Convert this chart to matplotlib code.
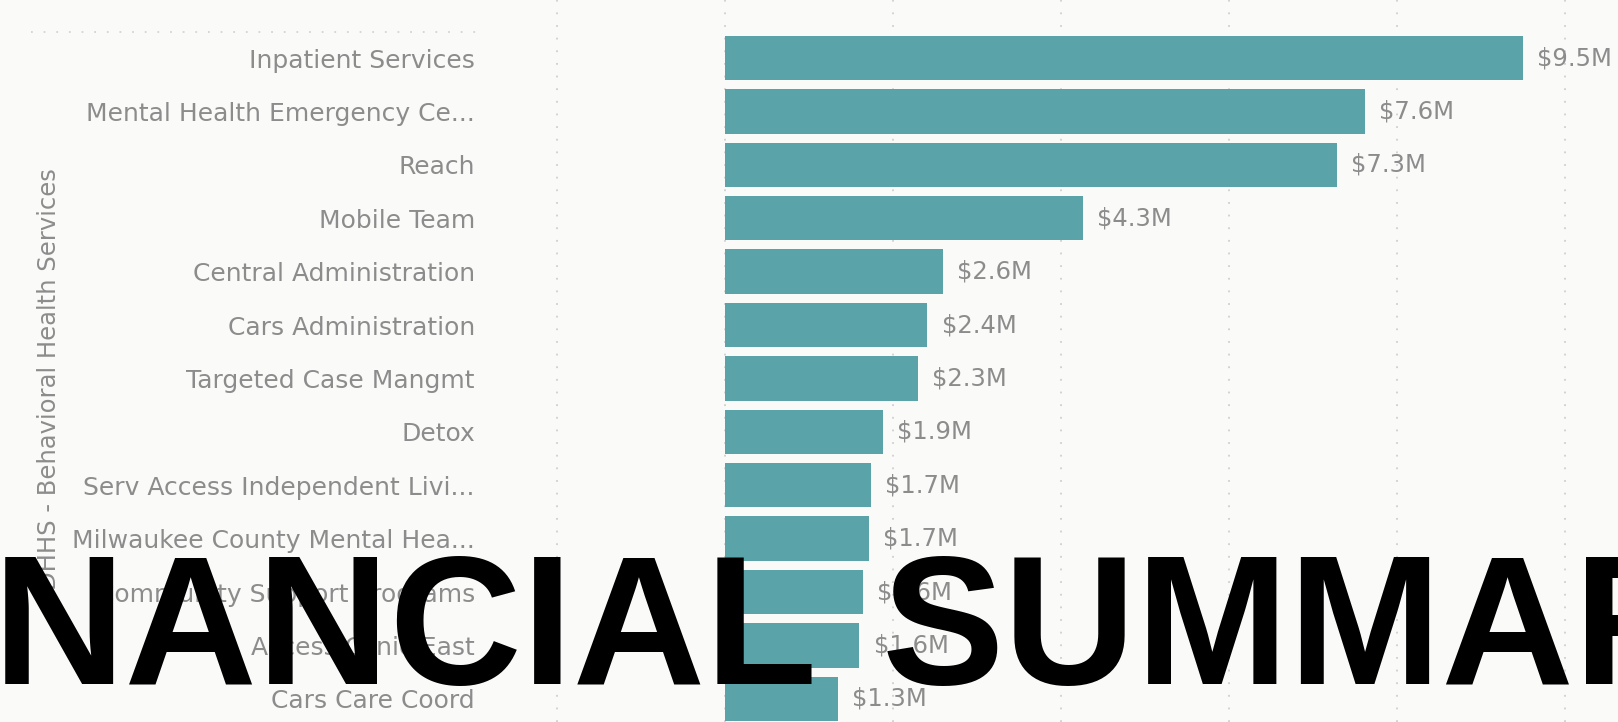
"""Budget by program - horizontal bar chart with a title banner overlay."""

import matplotlib

matplotlib.use("Agg")
import matplotlib.pyplot as plt
from matplotlib.lines import Line2D


programs = [
    "Inpatient Services",
    "Mental Health Emergency Ce...",
    "Reach",
    "Mobile Team",
    "Central Administration",
    "Cars Administration",
    "Targeted Case Mangmt",
    "Detox",
    "Serv Access Independent Livi...",
    "Milwaukee County Mental Hea...",
    "Community Support Programs",
    "Access Clinic East",
    "Cars Care Coord",
]
amounts_m = [9.50, 7.62, 7.28, 4.26, 2.59, 2.41, 2.30, 1.88, 1.74, 1.71, 1.64, 1.60, 1.34]
grid_ticks = [-2, 0, 2, 4, 6, 8, 10]

axis_title = "DHHS - Behavioral Health Services"
banner_words = ["NANCIAL", "SUMMAR"]

BAR_COLOR = "#5aa3a9"
TEXT_GRAY = "#8c8c8c"
BG = "#fafaf9"

W, H, DPI = 1618, 722, 100
fig = plt.figure(figsize=(W / DPI, H / DPI), dpi=DPI, facecolor=BG)

left_px = 486
ax = fig.add_axes([left_px / W, 0.0, 1 - left_px / W, 1.0], facecolor=BG)

positions = range(len(programs))
ax.barh(positions, amounts_m, height=0.83, color=BAR_COLOR, zorder=2)

px_per_m = 84.0
zero_px = 725
ax.set_xlim(-(zero_px - left_px) / px_per_m, (W - zero_px) / px_per_m)
row_px = 53.4
first_row_px = 58
ax.set_ylim((H - first_row_px) / row_px, -first_row_px / row_px)

ax.set_yticks(list(positions))
ax.set_yticklabels(programs, fontsize=18, color=TEXT_GRAY)
ax.tick_params(axis="y", length=0, pad=8)
ax.set_xticks(grid_ticks)
ax.tick_params(axis="x", length=0, labelbottom=False)
ax.grid(axis="x", color="#cfcfcf", linestyle=(0, (1, 6)), linewidth=1.3, zorder=0)
for side in ax.spines.values():
    side.set_visible(False)

for pos, value in zip(positions, amounts_m):
    ax.text(value + 0.17, pos, f"${value:.1f}M", va="center", ha="left",
            fontsize=17.5, color=TEXT_GRAY, zorder=3)

fig.text(49 / W, 1 - 379 / H, axis_title, rotation=90, ha="center", va="center",
         fontsize=17.5, color=TEXT_GRAY)

# faint dotted rule above the category labels
fig.add_artist(Line2D([31 / W, 486 / W], [1 - 32 / H, 1 - 32 / H],
                      color="#d4d4d4", linestyle=(0, (1, 6)), linewidth=1.3))

# banner text running off both edges of the picture
for word, x_px in zip(banner_words, [-7, 882]):
    fig.text(x_px / W, 1 - 684 / H, word, ha="left", va="baseline",
             fontsize=132, fontweight="bold", family="Liberation Sans",
             color="black", zorder=10)

fig.savefig("out.png", dpi=DPI, facecolor=BG)
